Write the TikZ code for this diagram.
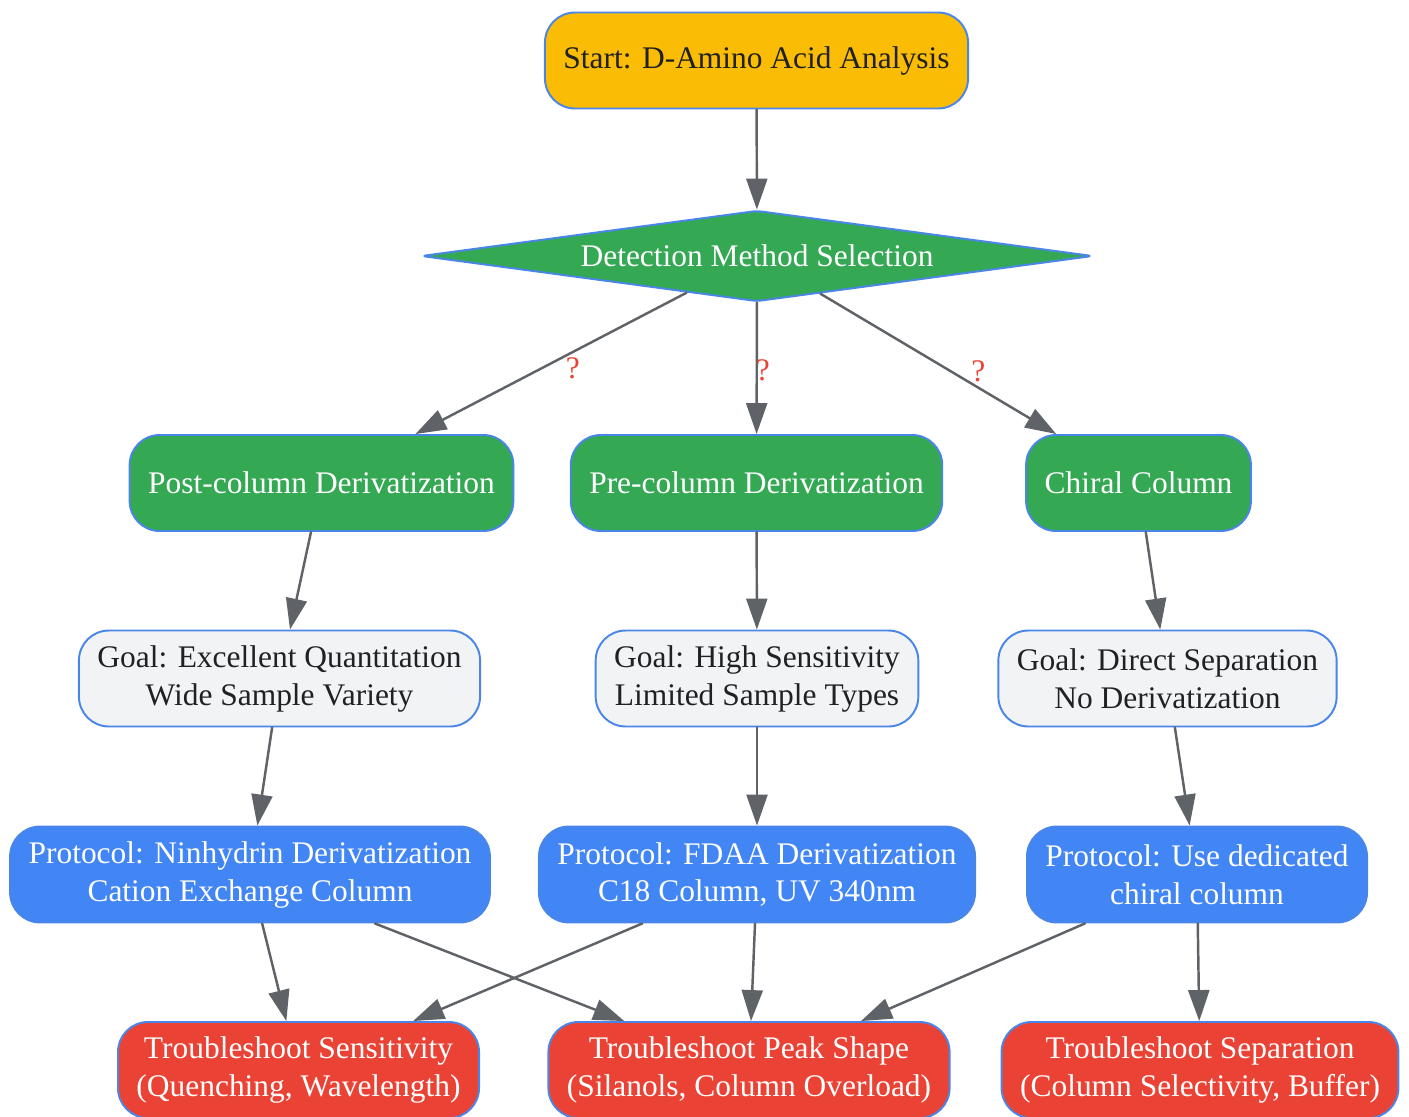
\documentclass[tikz,border=0pt]{standalone}
\usepackage{fontspec}
\setmainfont{Liberation Serif}
\usetikzlibrary{shapes.geometric,arrows.meta}
\definecolor{gyellow}{HTML}{FBBC05}
\definecolor{ggreen}{HTML}{34A853}
\definecolor{gblue}{HTML}{4285F4}
\definecolor{gred}{HTML}{EA4335}
\definecolor{glight}{HTML}{F1F3F4}
\definecolor{gborder}{HTML}{4A86E8}
\definecolor{gline}{HTML}{5F6368}
\definecolor{gtext}{HTML}{202124}
\begin{document}
\begin{tikzpicture}[x=0.02cm, y=-0.02cm, line join=round, line cap=round,
		font=\fontsize{17.9}{21.6}\selectfont,
		>={Triangle[length=0.62cm, width=0.42cm]},
		box/.style={draw=gborder, line width=1.1pt, rounded corners=0.6cm, align=center,
			minimum height=1.92cm, inner xsep=0.37cm, inner ysep=0.2cm},
		startbox/.style={box, fill=gyellow, text=gtext},
		methodbox/.style={box, fill=ggreen, text=white},
		goalbox/.style={box, fill=glight, text=gtext},
		protbox/.style={box, fill=gblue, text=white},
		fixbox/.style={box, fill=gred, text=white},
		decision/.style={diamond, draw=gborder, line width=1.1pt, fill=ggreen, text=white,
			aspect=7.4, minimum width=13.44cm, minimum height=1.82cm, inner sep=0pt, rounded corners=0.1cm},
		arr/.style={->, draw=gline, line width=1.4pt},
		qlabel/.style={text=gred, inner sep=0pt}]
		\clip (0,0) rectangle (1409,1116);
		% nodes
		\node[startbox] (start) at (756.5,60.5) {Start: D-Amino Acid Analysis};
		\node[decision] (method) at (757,256) {Detection Method Selection};
		\node[methodbox] (post) at (321.5,483) {Post-column Derivatization};
		\node[methodbox] (pre) at (756.5,483) {Pre-column Derivatization};
		\node[methodbox] (chiral) at (1138.5,483) {Chiral Column};
		\node[goalbox] (goalpost) at (279.5,678.5) {Goal: Excellent Quantitation\\Wide Sample Variety};
		\node[goalbox] (goalpre) at (757,678.5) {Goal: High Sensitivity\\Limited Sample Types};
		\node[goalbox] (goalchiral) at (1167.5,678.5) {Goal: Direct Separation\\No Derivatization};
		\node[protbox] (protpost) at (250,874.5) {Protocol: Ninhydrin Derivatization\\Cation Exchange Column};
		\node[protbox] (protpre) at (757,874.5) {Protocol: FDAA Derivatization\\C18 Column, UV 340nm};
		\node[protbox] (protchiral) at (1197,874.5) {Protocol: Use dedicated\\chiral column};
		\node[fixbox] (fixsens) at (298.5,1070) {Troubleshoot Sensitivity\\(Quenching, Wavelength)};
		\node[fixbox] (fixpeak) at (749,1070) {Troubleshoot Peak Shape\\(Silanols, Column Overload)};
		\node[fixbox] (fixsep) at (1200,1070) {Troubleshoot Separation\\(Column Selectivity, Buffer)};
		% connectors
		\draw[arr] (start) -- (method);
		\draw[arr] (method) -- node[qlabel, pos=0.5, xshift=0.44cm, yshift=-0.1cm]{?} (post);
		\draw[arr] (method) -- node[qlabel, pos=0.5, xshift=0.12cm, yshift=-0.04cm]{?} (pre);
		\draw[arr] (method) -- node[qlabel, pos=0.5, xshift=0.8cm, yshift=-0.14cm]{?} (chiral);
		\draw[arr] (post) -- (goalpost);
		\draw[arr] (pre) -- (goalpre);
		\draw[arr] (chiral) -- (goalchiral);
		\draw[arr] (goalpost) -- (protpost);
		\draw[arr] (goalpre) -- (protpre);
		\draw[arr] (goalchiral) -- (protchiral);
		\draw[arr] (protpost) -- (fixsens);
		\draw[arr] (protpost) -- (fixpeak);
		\draw[arr] (protpre) -- (fixsens);
		\draw[arr] (protpre) -- (fixpeak);
		\draw[arr] (protchiral) -- (fixpeak);
		\draw[arr] (protchiral) -- (fixsep);
		\end{tikzpicture}
\end{document}
